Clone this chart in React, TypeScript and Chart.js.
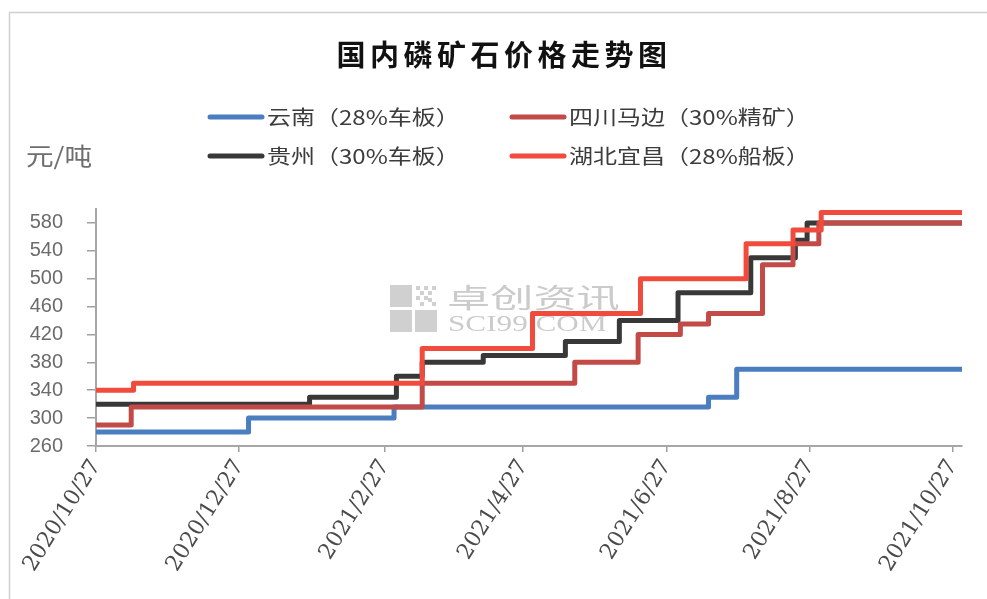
import React, { useEffect, useRef } from 'react';
import { Chart, registerables } from 'chart.js';

Chart.register(...registerables);

const TITLE = '国内磷矿石价格走势图';
const UNIT = '元/吨';
const START_DATE = '2020-10-27';
const END_DATE = '2021-10-31';

const X_TICK_DATES = ['2020-10-27', '2020-12-27', '2021-02-27', '2021-04-27', '2021-06-27', '2021-08-27', '2021-10-27'];
const X_TICK_LABELS = ['2020/10/27', '2020/12/27', '2021/2/27', '2021/4/27', '2021/6/27', '2021/8/27', '2021/10/27'];
const Y_MIN = 260;
const Y_MAX = 600;
const Y_TICKS = [260, 300, 340, 380, 420, 460, 500, 540, 580];

const SERIES_NAMES = ['云南（28%车板）', '四川马边（30%精矿）', '贵州（30%车板）', '湖北宜昌（28%船板）'];
const SERIES_COLORS = ['#4a7ebf', '#c24b48', '#383838', '#f04b3c'];
const SERIES_ORDER = [3, 1, 2, 0];

const yunnanDates = ['2020-10-27', '2020-12-31', '2021-03-03', '2021-07-15', '2021-07-27', '2021-10-31'];
const yunnanValues = [280, 300, 316, 330, 370, 370];

const sichuanDates = ['2020-10-27', '2020-11-11', '2021-03-15', '2021-05-19', '2021-06-15', '2021-07-03', '2021-07-15', '2021-08-07', '2021-08-20', '2021-08-31', '2021-10-31'];
const sichuanValues = [290, 316, 350, 380, 420, 435, 450, 520, 550, 580, 580];

const guizhouDates = ['2020-10-27', '2021-01-26', '2021-03-04', '2021-03-15', '2021-04-10', '2021-05-15', '2021-06-07', '2021-07-02', '2021-08-02', '2021-08-21', '2021-08-26', '2021-10-31'];
const guizhouValues = [320, 330, 360, 380, 390, 410, 440, 480, 530, 555, 580, 580];

const hubeiDates = ['2020-10-27', '2020-11-12', '2021-03-15', '2021-05-01', '2021-06-16', '2021-07-31', '2021-08-20', '2021-09-01', '2021-10-31'];
const hubeiValues = [340, 350, 400, 450, 500, 550, 570, 595, 595];

const SERIES_DATES = [yunnanDates, sichuanDates, guizhouDates, hubeiDates];
const SERIES_VALUES = [yunnanValues, sichuanValues, guizhouValues, hubeiValues];

function dayOf(s: string): number {
  const [y, m, d] = s.split('-').map(Number);
  const [y0, m0, d0] = START_DATE.split('-').map(Number);
  return Math.round((Date.UTC(y, m - 1, d) - Date.UTC(y0, m0 - 1, d0)) / 86400000);
}

const CJK = '"Noto Sans CJK SC", "Noto Sans", sans-serif';

function drawText(ctx: CanvasRenderingContext2D, text: string, x: number, y: number, font: string, color: string, sx: number, align: 'left' | 'center' = 'left', spacing = 0) {
  ctx.save();
  ctx.font = font;
  (ctx as any).letterSpacing = spacing + 'px';
  ctx.fillStyle = color;
  ctx.textBaseline = 'middle';
  ctx.textAlign = 'left';
  const w = ctx.measureText(text).width * sx;
  const x0 = align === 'center' ? x - w / 2 : x;
  ctx.translate(x0, y);
  ctx.scale(sx, 1);
  ctx.fillText(text, 0, 0);
  ctx.restore();
}

const decorPlugin = {
  id: 'decor',
  beforeDatasetsDraw(chart: any) {
    const ctx: CanvasRenderingContext2D = chart.ctx;
    ctx.save();
    ctx.fillStyle = '#d0d0d0';
    ctx.fillRect(390, 285, 22, 22);
    ctx.fillRect(390, 310, 22, 22);
    ctx.fillRect(415, 310, 22, 22);
    const dots = [[0, 0], [8, 0], [16, 0], [4, 5], [12, 5], [0, 10], [8, 10], [16, 16], [4, 16], [12, 12]];
    dots.forEach(([dx, dy]) => ctx.fillRect(416 + dx, 286 + dy, 4, 4));
    drawText(ctx, '卓创资讯', 447, 298, '27px ' + CJK, '#cbcbcb', 1.6);
    drawText(ctx, 'SCI99.COM', 448, 325, '24px "Liberation Serif", serif', '#cbcbcb', 1.3);
    ctx.restore();
  },
  afterDraw(chart: any) {
    const ctx: CanvasRenderingContext2D = chart.ctx;
    ctx.save();
    ctx.strokeStyle = '#cfcfcf';
    ctx.lineWidth = 1.5;
    ctx.beginPath();
    ctx.moveTo(9.5, 620);
    ctx.lineTo(9.5, 12.5);
    ctx.lineTo(1000, 12.5);
    ctx.stroke();
    drawText(ctx, TITLE, 504, 55, 'bold 29px ' + CJK, '#111111', 1.0, 'center', 4.5);
    drawText(ctx, UNIT, 26, 156, '24px ' + CJK, '#6e6e6e', 1.15);
    const cols = [210, 512];
    const rows = [117, 156];
    const layout = [
      [0, 0, 0],
      [1, 1, 0],
      [2, 0, 1],
      [3, 1, 1],
    ];
    layout.forEach(([i, c, r]) => {
      const x = cols[c];
      const y = rows[r];
      ctx.strokeStyle = SERIES_COLORS[i];
      ctx.lineWidth = 5;
      ctx.lineCap = 'round';
      ctx.beginPath();
      ctx.moveTo(x, y);
      ctx.lineTo(x + 52, y);
      ctx.stroke();
      drawText(ctx, SERIES_NAMES[i], x + 57, y, '20px ' + CJK, '#3c3c3c', 1.2);
    });
    ctx.restore();
  },
};

export default function App() {
  const ref = useRef<HTMLCanvasElement | null>(null);
  useEffect(() => {
    if (!ref.current) return;
    const tickDays = X_TICK_DATES.map(dayOf);
    const datasets = SERIES_NAMES.map((name, i) => ({
      label: name,
      data: SERIES_DATES[i].map((d, j) => ({ x: dayOf(d), y: SERIES_VALUES[i][j] })),
      borderColor: SERIES_COLORS[i],
      backgroundColor: SERIES_COLORS[i],
      borderWidth: 5,
      stepped: true,
      pointRadius: 0,
      borderJoinStyle: 'round' as const,
      borderCapStyle: 'butt' as const,
      fill: false,
      order: SERIES_ORDER[i],
    }));
    const chart = new Chart(ref.current, {
      type: 'line',
      data: { datasets },
      plugins: [decorPlugin],
      options: {
        animation: false,
        responsive: false,
        maintainAspectRatio: false,
        layout: { padding: { top: 209, right: 25, left: 0, bottom: 0 } },
        plugins: { legend: { display: false }, title: { display: false }, tooltip: { enabled: false } },
        scales: {
          x: {
            type: 'linear',
            min: 0,
            max: dayOf(END_DATE),
            afterBuildTicks: (scale: any) => {
              scale.ticks = tickDays.map((v) => ({ value: v }));
            },
            afterFit: (scale: any) => {
              scale.height = 153;
            },
            ticks: {
              autoSkip: false,
              minRotation: 58,
              maxRotation: 58,
              padding: 3,
              color: '#4a4a4a',
              font: { family: '"DejaVu Serif", serif', size: 22 },
              callback: (v: any) => {
                const idx = tickDays.indexOf(Number(v));
                return idx >= 0 ? X_TICK_LABELS[idx] : '';
              },
            },
            grid: { display: true, drawOnChartArea: false, tickLength: 6, color: '#a0a0a0', lineWidth: 1.5 },
            border: { display: true, color: '#a6a6a6', width: 2 },
          },
          y: {
            type: 'linear',
            min: Y_MIN,
            max: Y_MAX,
            afterBuildTicks: (scale: any) => {
              scale.ticks = Y_TICKS.map((v) => ({ value: v }));
            },
            afterFit: (scale: any) => {
              scale.width = 96;
            },
            ticks: {
              autoSkip: false,
              padding: 24,
              color: '#6b6b6b',
              font: { family: '"Liberation Sans", Arial, sans-serif', size: 20 },
            },
            grid: { display: true, drawOnChartArea: false, tickLength: 9, color: '#a0a0a0', lineWidth: 1.5 },
            border: { display: true, color: '#a6a6a6', width: 2 },
          },
        },
      },
    });
    return () => chart.destroy();
  }, []);
  return (
    <div style={{ position: 'fixed', left: 0, top: 0, width: 987, height: 599, background: '#ffffff' }}>
      <canvas ref={ref} width={987} height={599} style={{ display: 'block', width: 987, height: 599 }} />
    </div>
  );
}
